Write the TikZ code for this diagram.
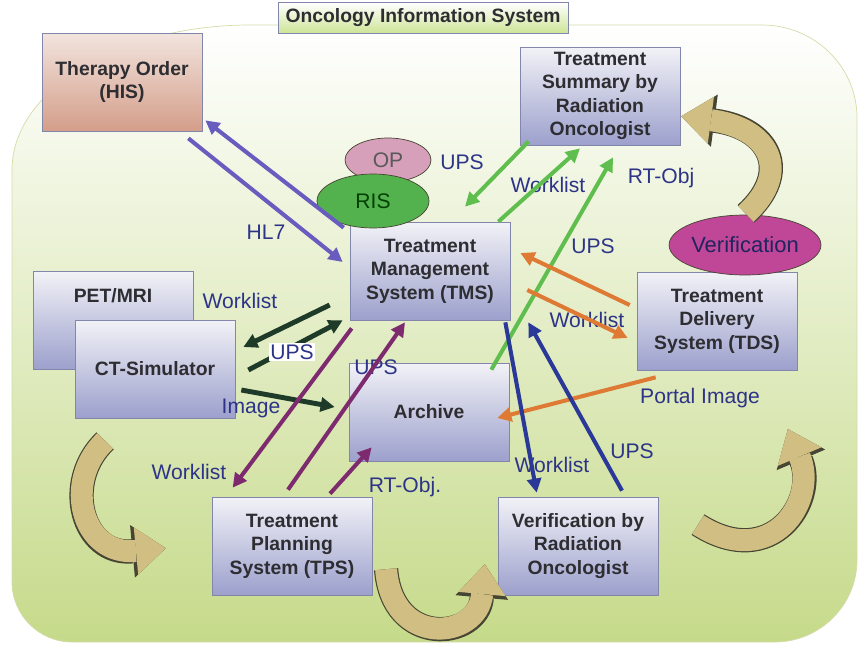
\documentclass[tikz,border=0pt]{standalone}
\usepackage{fontspec}
\setmainfont{Liberation Sans}
\usetikzlibrary{arrows.meta,shapes.geometric}

\definecolor{boxtop}{RGB}{242,242,247}
\definecolor{boxbot}{RGB}{156,160,204}
\definecolor{boxline}{RGB}{130,134,170}
\definecolor{boxtext}{RGB}{45,45,50}
\definecolor{histop}{RGB}{242,228,222}
\definecolor{hisbot}{RGB}{212,158,138}
\definecolor{lbltext}{RGB}{45,52,135}
\definecolor{bggreen}{RGB}{198,218,138}
\definecolor{bgmid}{RGB}{246,247,234}
\definecolor{bgline}{RGB}{212,220,168}
\definecolor{titlebot}{RGB}{205,228,150}
\definecolor{opfill}{RGB}{214,160,186}
\definecolor{risfill}{RGB}{84,178,78}
\definecolor{verfill}{RGB}{192,70,152}
\definecolor{hlc}{RGB}{104,92,190}
\definecolor{ctc}{RGB}{30,58,40}
\definecolor{tpsc}{RGB}{125,42,110}
\definecolor{summc}{RGB}{96,190,78}
\definecolor{tdsc}{RGB}{222,122,52}
\definecolor{verc}{RGB}{42,56,152}
\definecolor{tanfill}{RGB}{208,190,130}
\definecolor{tanedge}{RGB}{70,68,50}

\tikzset{
  sysbox/.style={draw=boxline, top color=boxtop, bottom color=boxbot,
    minimum width=3.2cm, minimum height=1.96cm, inner sep=0pt, align=center,
    font=\fontsize{11}{13.4}\selectfont\bfseries, text=boxtext},
  lbl/.style={font=\fontsize{12}{14}\selectfont, text=lbltext, inner sep=0pt},
  flow/.style={line width=2.3pt, -{Triangle[length=8pt,width=8pt]}},
  cycarrow/.style={draw=tanfill, line width=12.5pt, shorten <=0.7pt, shorten >=1.3pt,
    -{Triangle[length=17pt,width=27pt,line width=0pt]},
    preaction={draw=tanedge, line width=13.8pt,
      -{Triangle[length=19pt,width=30pt,line width=0pt]}}}
}

\begin{document}
\begin{tikzpicture}[x=0.02cm, y=-0.02cm]
    \path[use as bounding box] (0,0) rectangle (861,645);
    % Fondo
    \draw[draw=bgline, top color=white, middle color=bgmid, bottom color=bggreen]
        (250,25) -- (762,25) .. controls (814,25) and (857,66) .. (857,118)
        -- (857,560) .. controls (857,605) and (820,642) .. (775,642)
        -- (72,642) .. controls (39,642) and (12,615) .. (12,582)
        -- (12,170) .. controls (12,90) and (120,25) .. (250,25) -- cycle;
    \node[draw=boxline, top color=white, bottom color=titlebot, minimum width=5.8cm,
        minimum height=0.62cm, inner sep=0pt, font=\fontsize{11}{13}\selectfont\bfseries,
        text=boxtext] (title) at (423,18) {Oncology Information System};

    % Sistemas
    \node[sysbox, top color=histop, bottom color=hisbot] (his) at (122,82) {Therapy Order\\(HIS)};
    \node[sysbox] (summ) at (600,96) {Treatment\\Summary by\\Radiation\\Oncologist};
    \node[sysbox] (tms) at (430,271) {Treatment\\Management\\System (TMS)};
    \node[sysbox] (tds) at (717,321) {Treatment\\Delivery\\System (TDS)};
    \node[sysbox, label={[anchor=center, yshift=-0.5cm, font=\fontsize{11}{13.4}\selectfont\bfseries,
        text=boxtext]north:PET/MRI}] (pet) at (113,320) {};
    \node[sysbox] (ct) at (155,369) {CT-Simulator};
    \node[sysbox] (arch) at (429,412) {Archive};
    \node[sysbox] (tps) at (292,546) {Treatment\\Planning\\System (TPS)};
    \node[sysbox] (ver) at (578,546) {Verification by\\Radiation\\Oncologist};

    % Elipses
    \node[ellipse, draw=tanedge, fill=opfill, minimum width=1.72cm, minimum height=0.88cm,
        inner sep=0pt, font=\fontsize{12}{14}\selectfont, text=black!65] (op) at (388,160) {OP};
    \node[ellipse, draw=tanedge, fill=risfill, minimum width=2.24cm, minimum height=1.08cm,
        inner sep=0pt, font=\fontsize{12}{14}\selectfont, text=green!25!black] (ris) at (373,201) {RIS};
    \node[ellipse, draw=tanedge, fill=verfill, minimum width=2.68cm, minimum height=1.2cm,
        inner sep=0pt, font=\fontsize{12.5}{14}\selectfont, text=lbltext!70!black] (verif) at (745,245) {Verification};

    % Ciclos
    \draw[cycarrow] (verif.north) .. controls (792,172) and (770,128) .. (679,116);
    \draw[cycarrow] (106,440) .. controls (62,482) and (82,556) .. (168,548);
    \draw[cycarrow] (386,568) .. controls (392,648) and (478,640) .. (485,562);
    \draw[cycarrow] (697,524) .. controls (772,572) and (818,500) .. (787,427);

    % Etiquetas
    \node[lbl] (hl7) at (266,232) {HL7};
    \node[lbl] (upsris) at (462,162) {UPS};
    \node[lbl] (wlsumm) at (548,185) {Worklist};
    \node[lbl] (rtsumm) at (661,178) {RT-Obj};
    \node[lbl] (upstds) at (593,246) {UPS};
    \node[lbl] (wlct) at (240,301) {Worklist};
    \node[lbl] (wltds) at (587,320) {Worklist};
    \node[lbl] (upsarch) at (376,367) {UPS};
    \node[lbl] (image) at (251,408) {Image};
    \node[lbl] (portal) at (700,398) {Portal Image};
    \node[lbl] (wltps) at (189,472) {Worklist};
    \node[lbl] (upsver) at (632,451) {UPS};
    \node[lbl] (wlver) at (552,465) {Worklist};
    \node[lbl] (rttps) at (405,487) {RT-Obj.};

    % HL7
    \draw[flow, hlc] ([shift={(-6,6)}]tms.north west) -- ([shift={(3,-11)}]his.south east);
    \draw[flow, hlc] ([shift={(-14,7)}]his.south east) -- ([shift={(-7,-9)}]tms.west);
    % CT-Simulator
    \draw[flow, ctc, line width=2.8pt] ([shift={(-20,34)}]tms.west) -- ([shift={(8,-22)}]ct.east);
    \draw[flow, ctc, line width=2.8pt] ([shift={(13,1)}]ct.east) -- ([shift={(-7,0)}]tms.south west);
    \draw[flow, ctc, line width=2.8pt] ([shift={(6,21)}]ct.east) -- ([shift={(-14,-5)}]arch.west);
    \node[lbl, fill=white, inner sep=1pt] (upsct) at (292,352) {UPS};
    % TPS
    \draw[flow, tpsc] ([shift={(2,8)}]tms.south west) -- ([shift={(21,-9)}]tps.north west);
    \draw[flow, tpsc] ([shift={(-4,-7)}]tps.north) -- ([shift={(-25,2)}]tms.south);
    \draw[flow, tpsc] ([shift={(38,-3)}]tps.north) -- ([shift={(23,-14)}]arch.south west);
    % Resumen
    \draw[flow, summc] ([shift={(9,-4)}]summ.south west) -- ([shift={(35,-15)}]tms.north);
    \draw[flow, summc] ([shift={(-12,0)}]tms.north east) -- ([shift={(-20,3)}]summ.south);
    \draw[flow, summc] ([shift={(-18,7)}]arch.north east) -- ([shift={(13,12)}]summ.south);
    % TDS
    \draw[flow, tdsc] ([shift={(-7,-16)}]tds.west) -- ([shift={(10,-18)}]tms.east);
    \draw[flow, tdsc] ([shift={(17,19)}]tms.east) -- ([shift={(-9,17)}]tds.west);
    \draw[flow, tdsc] ([shift={(19,7)}]tds.south west) -- ([shift={(-12,6)}]arch.east);
    % Verificacion
    \draw[flow, verc] ([shift={(-5,2)}]tms.south east) -- ([shift={(39,-4)}]ver.north west);
    \draw[flow, verc] ([shift={(44,-6)}]ver.north) -- ([shift={(18,2)}]tms.south east);
\end{tikzpicture}
\end{document}
